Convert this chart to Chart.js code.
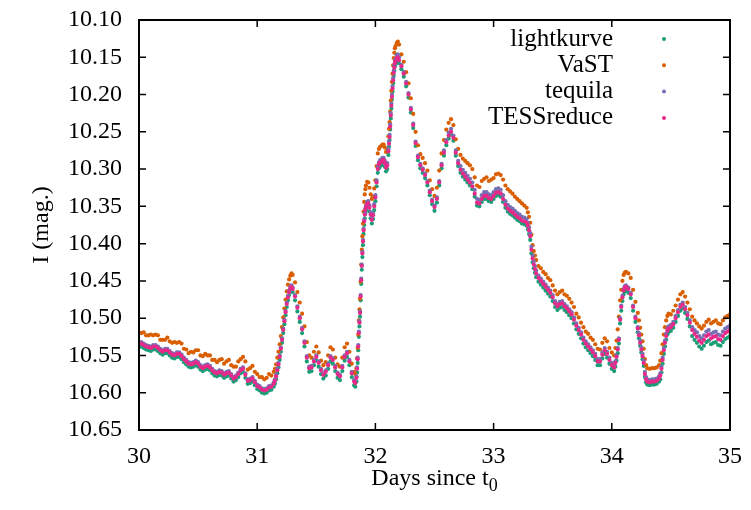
<!DOCTYPE html>
<html>
<head>
<meta charset="utf-8">
<script src="https://cdn.jsdelivr.net/npm/chart.js@4/dist/chart.umd.min.js"></script>
<style>
  html, body { margin: 0; padding: 0; background: #fff; }
  #wrap { width: 751px; height: 510px; }
</style>
</head>
<body>
<div id="wrap"><canvas id="lc"></canvas></div>
<script>
// --- DATA ---
const seriesNames = ['lightkurve', 'VaST', 'tequila', 'TESSreduce'];
const xTickValues = [30, 31, 32, 33, 34, 35];
const yTickValues = [10.10, 10.15, 10.20, 10.25, 10.30, 10.35, 10.40, 10.45, 10.50, 10.55, 10.60, 10.65];

// days since t0 (shared by all four reductions)
const times = [
  30.00,30.02,30.04,30.06,30.08,30.10,30.12,30.14,30.16,30.18,
  30.20,30.22,30.24,30.26,30.28,30.30,30.32,30.34,30.36,30.38,
  30.40,30.42,30.44,30.46,30.48,30.50,30.52,30.54,30.56,30.58,
  30.60,30.62,30.64,30.66,30.68,30.70,30.72,30.74,30.76,30.78,
  30.80,30.82,30.84,30.86,30.88,30.90,30.92,30.94,30.96,30.98,
  31.00,31.02,31.04,31.06,31.08,31.10,31.12,31.14,
  31.15,31.16,31.17,31.18,31.19,31.20,31.21,31.22,31.23,31.24,31.25,31.26,31.27,31.28,31.29,31.30,
  31.32,31.34,31.36,31.38,31.40,31.42,31.44,31.46,31.48,31.50,31.52,31.54,31.56,31.58,31.60,31.62,31.64,31.66,31.68,31.70,31.72,31.74,31.76,31.78,31.80,31.82,
  31.83,31.84,31.845,31.85,31.855,31.86,31.865,31.87,31.875,31.88,31.885,31.89,31.895,31.90,31.905,31.91,31.915,31.92,
  31.93,31.94,31.95,31.96,31.97,31.98,31.99,32.00,32.01,32.02,32.03,32.04,32.05,32.06,32.07,32.08,32.09,32.10,32.11,
  32.115,32.12,32.125,32.13,32.135,32.14,32.145,32.15,32.155,32.16,32.165,32.17,
  32.18,32.19,32.20,
  32.22,32.24,32.26,32.28,32.30,32.32,32.34,32.36,32.38,32.40,
  32.42,32.44,32.46,32.48,32.50,32.52,32.54,32.56,32.58,32.60,
  32.62,32.64,32.66,32.68,32.70,32.72,32.74,32.76,32.78,32.80,
  32.82,32.84,32.86,32.88,32.90,32.92,32.94,32.96,32.98,33.00,
  33.02,33.04,33.06,33.08,33.10,33.12,33.14,33.16,33.18,33.20,
  33.22,33.24,33.26,33.28,
  33.29,33.30,33.31,33.32,33.33,33.34,33.35,33.36,
  33.38,33.40,33.42,33.44,33.46,33.48,33.50,33.52,33.54,33.56,
  33.58,33.60,33.62,33.64,33.66,33.68,33.70,33.72,33.74,33.76,
  33.78,33.80,33.82,33.84,33.86,33.88,33.90,33.92,33.94,33.96,
  33.98,34.00,34.02,
  34.03,34.04,34.05,34.06,34.07,34.08,34.09,34.10,34.11,34.12,
  34.14,34.16,34.18,34.20,34.22,
  34.23,34.24,34.25,34.26,34.27,34.28,34.29,34.30,
  34.32,34.34,34.36,34.38,34.40,
  34.41,34.42,34.43,34.44,34.45,34.46,34.47,34.48,
  34.50,34.52,34.54,34.56,34.58,34.60,34.62,34.64,34.66,34.68,
  34.70,34.72,34.74,34.76,34.78,34.80,34.82,34.84,34.86,34.88,
  34.90,34.92,34.94,34.96,34.98,35.00
];

// I magnitudes, lightkurve
const lightkurve = [
  10.539,10.538,10.540,10.542,10.543,10.544,10.542,10.542,10.544,10.547,
  10.549,10.547,10.547,10.550,10.553,10.554,10.552,10.552,10.555,10.559,
  10.562,10.565,10.566,10.565,10.563,10.565,10.569,10.571,10.569,10.568,
  10.570,10.574,10.577,10.578,10.576,10.577,10.580,10.578,10.577,10.581,
  10.585,10.583,10.579,10.574,10.572,10.580,10.588,10.587,10.585,10.590,
  10.595,10.597,10.600,10.601,10.600,10.597,10.596,10.592,
  10.588,10.582,10.574,10.566,10.556,10.545,10.533,10.520,10.508,10.496,10.485,10.476,10.469,10.464,10.462,10.465,
  10.476,10.491,10.505,10.520,10.538,10.558,10.572,10.571,10.563,10.557,10.565,10.575,10.581,10.577,10.568,10.558,10.561,10.571,10.580,10.583,10.571,10.557,10.552,10.563,10.579,10.590,
  10.592,10.585,10.573,10.560,10.543,10.525,10.511,10.498,10.476,10.454,10.435,10.418,10.402,10.387,10.375,10.366,10.360,10.356,
  10.352,10.351,10.357,10.366,10.373,10.367,10.355,10.343,10.323,10.305,10.299,10.296,10.295,10.293,10.293,10.297,10.303,10.300,10.281,
  10.270,10.261,10.247,10.232,10.219,10.207,10.196,10.185,10.175,10.168,10.162,10.159,
  10.155,10.154,10.158,
  10.166,10.176,10.189,10.204,10.224,10.245,10.269,10.288,10.299,10.305,
  10.312,10.322,10.335,10.347,10.356,10.345,10.322,10.299,10.282,10.268,
  10.259,10.254,10.262,10.282,10.296,10.305,10.310,10.314,10.318,10.322,
  10.327,10.337,10.349,10.350,10.344,10.340,10.340,10.343,10.344,10.340,
  10.336,10.335,10.337,10.344,10.352,10.357,10.360,10.362,10.365,10.368,
  10.370,10.373,10.374,10.376,
  10.381,10.387,10.395,10.413,10.425,10.433,10.439,10.445,
  10.451,10.455,10.459,10.463,10.467,10.471,10.477,10.485,10.489,10.486,
  10.485,10.489,10.492,10.496,10.500,10.507,10.515,10.521,10.527,10.534,
  10.539,10.543,10.547,10.551,10.556,10.563,10.563,10.554,10.548,10.553,
  10.561,10.568,10.571,
  10.565,10.557,10.547,10.534,10.507,10.490,10.477,10.468,10.464,10.463,
  10.466,10.473,10.490,10.505,10.519,
  10.527,10.537,10.546,10.555,10.564,10.579,10.586,10.589,
  10.590,10.589,10.589,10.588,10.585,
  10.582,10.573,10.561,10.548,10.538,10.529,10.522,10.519,
  10.517,10.513,10.505,10.497,10.490,10.487,10.493,10.501,10.511,10.524,
  10.529,10.533,10.538,10.541,10.537,10.532,10.530,10.535,10.533,10.532,
  10.536,10.537,10.532,10.528,10.526,10.524
];

// I magnitudes, VaST
const vast = [
  10.519,10.520,10.519,10.523,10.523,10.522,10.523,10.522,10.523,10.529,
  10.529,10.529,10.526,10.531,10.533,10.532,10.533,10.532,10.534,10.541,
  10.542,10.547,10.545,10.546,10.543,10.543,10.550,10.551,10.548,10.550,
  10.550,10.556,10.556,10.559,10.556,10.555,10.561,10.558,10.556,10.563,
  10.565,10.565,10.558,10.555,10.552,10.558,10.569,10.567,10.564,10.572,
  10.575,10.579,10.579,10.582,10.580,10.575,10.577,10.572,
  10.568,10.562,10.553,10.545,10.535,10.524,10.512,10.499,10.487,10.475,10.464,10.455,10.448,10.443,10.440,10.442,
  10.452,10.465,10.479,10.494,10.511,10.532,10.550,10.553,10.545,10.538,10.546,10.557,10.563,10.559,10.550,10.539,10.542,10.553,10.562,10.565,10.553,10.539,10.534,10.545,10.561,10.572,
  10.575,10.567,10.554,10.540,10.522,10.503,10.488,10.474,10.451,10.428,10.408,10.390,10.373,10.357,10.344,10.334,10.327,10.322,
  10.317,10.318,10.325,10.334,10.340,10.337,10.326,10.315,10.296,10.279,10.273,10.270,10.269,10.267,10.267,10.271,10.277,10.274,10.256,
  10.246,10.237,10.223,10.208,10.195,10.183,10.172,10.161,10.151,10.144,10.138,10.135,
  10.131,10.129,10.133,
  10.146,10.156,10.170,10.185,10.205,10.226,10.250,10.268,10.280,10.285,
  10.292,10.302,10.315,10.327,10.336,10.325,10.302,10.279,10.261,10.247,
  10.238,10.233,10.241,10.260,10.273,10.281,10.286,10.289,10.292,10.295,
  10.300,10.311,10.322,10.324,10.316,10.313,10.311,10.316,10.314,10.312,
  10.307,10.306,10.308,10.314,10.322,10.327,10.330,10.333,10.337,10.340,
  10.343,10.346,10.349,10.352,
  10.358,10.364,10.372,10.388,10.402,10.410,10.416,10.422,
  10.430,10.433,10.438,10.441,10.446,10.449,10.456,10.463,10.468,10.465,
  10.463,10.468,10.470,10.474,10.479,10.485,10.494,10.499,10.506,10.512,
  10.518,10.521,10.526,10.529,10.535,10.541,10.542,10.533,10.527,10.531,
  10.540,10.546,10.550,
  10.540,10.530,10.515,10.498,10.476,10.462,10.450,10.442,10.439,10.438,
  10.440,10.446,10.462,10.478,10.493,
  10.503,10.513,10.522,10.531,10.541,10.555,10.563,10.567,
  10.568,10.567,10.567,10.566,10.563,
  10.557,10.547,10.535,10.522,10.512,10.503,10.497,10.494,
  10.495,10.490,10.483,10.475,10.468,10.465,10.471,10.479,10.488,10.498,
  10.503,10.507,10.511,10.514,10.510,10.505,10.502,10.507,10.505,10.503,
  10.507,10.508,10.503,10.499,10.497,10.495
];

// I magnitudes, tequila
const tequila = [
  10.533,10.532,10.534,10.536,10.537,10.538,10.536,10.536,10.538,10.541,
  10.543,10.541,10.541,10.544,10.547,10.548,10.546,10.546,10.549,10.553,
  10.556,10.559,10.560,10.559,10.557,10.559,10.563,10.565,10.563,10.562,
  10.564,10.568,10.571,10.572,10.570,10.571,10.574,10.572,10.571,10.575,
  10.579,10.577,10.573,10.568,10.566,10.574,10.582,10.581,10.579,10.584,
  10.589,10.591,10.594,10.595,10.594,10.591,10.590,10.586,
  10.582,10.576,10.568,10.560,10.550,10.539,10.527,10.514,10.502,10.490,10.479,10.470,10.463,10.458,10.456,10.459,
  10.469,10.484,10.498,10.513,10.531,10.551,10.565,10.564,10.556,10.550,10.558,10.568,10.574,10.570,10.561,10.551,10.554,10.564,10.573,10.576,10.564,10.550,10.545,10.556,10.572,10.583,
  10.585,10.578,10.566,10.553,10.536,10.518,10.504,10.491,10.469,10.447,10.428,10.411,10.395,10.380,10.368,10.359,10.353,10.349,
  10.344,10.343,10.349,10.358,10.365,10.359,10.347,10.335,10.315,10.297,10.291,10.288,10.287,10.285,10.285,10.289,10.295,10.292,10.273,
  10.263,10.254,10.240,10.225,10.212,10.200,10.189,10.178,10.168,10.161,10.155,10.152,
  10.147,10.146,10.150,
  10.160,10.170,10.183,10.198,10.218,10.239,10.263,10.282,10.293,10.299,
  10.306,10.316,10.329,10.341,10.349,10.338,10.316,10.293,10.275,10.261,
  10.251,10.246,10.255,10.275,10.289,10.296,10.301,10.305,10.309,10.313,
  10.318,10.328,10.340,10.341,10.335,10.331,10.331,10.334,10.335,10.331,
  10.327,10.326,10.328,10.335,10.343,10.348,10.351,10.353,10.356,10.359,
  10.361,10.364,10.365,10.367,
  10.372,10.378,10.386,10.404,10.416,10.424,10.430,10.436,
  10.443,10.447,10.451,10.455,10.459,10.463,10.469,10.477,10.481,10.478,
  10.477,10.481,10.484,10.488,10.492,10.499,10.507,10.513,10.519,10.526,
  10.531,10.535,10.539,10.543,10.548,10.555,10.555,10.546,10.540,10.545,
  10.553,10.560,10.563,
  10.558,10.550,10.540,10.527,10.500,10.483,10.470,10.461,10.457,10.456,
  10.459,10.466,10.483,10.498,10.512,
  10.520,10.530,10.539,10.548,10.557,10.572,10.579,10.582,
  10.583,10.582,10.582,10.581,10.578,
  10.574,10.565,10.553,10.540,10.530,10.521,10.514,10.511,
  10.509,10.505,10.497,10.489,10.482,10.479,10.485,10.493,10.503,10.512,
  10.516,10.519,10.524,10.527,10.523,10.518,10.516,10.521,10.519,10.518,
  10.522,10.523,10.518,10.514,10.512,10.510
];

// I magnitudes, TESSreduce
const tessreduce = [
  10.535,10.534,10.536,10.538,10.539,10.540,10.538,10.538,10.540,10.543,
  10.545,10.543,10.543,10.546,10.549,10.550,10.548,10.548,10.551,10.555,
  10.558,10.561,10.562,10.561,10.559,10.561,10.565,10.567,10.565,10.564,
  10.566,10.570,10.573,10.574,10.572,10.573,10.576,10.574,10.573,10.577,
  10.581,10.579,10.575,10.570,10.568,10.576,10.584,10.583,10.581,10.586,
  10.591,10.593,10.596,10.597,10.596,10.593,10.592,10.588,
  10.584,10.578,10.570,10.562,10.552,10.541,10.529,10.516,10.504,10.492,10.481,10.472,10.465,10.460,10.458,10.461,
  10.471,10.486,10.500,10.515,10.533,10.553,10.567,10.566,10.558,10.552,10.560,10.570,10.576,10.572,10.563,10.553,10.556,10.566,10.575,10.578,10.566,10.552,10.547,10.558,10.574,10.585,
  10.587,10.580,10.568,10.555,10.538,10.520,10.506,10.493,10.471,10.449,10.430,10.413,10.397,10.382,10.370,10.361,10.355,10.351,
  10.347,10.346,10.352,10.361,10.368,10.362,10.350,10.338,10.318,10.300,10.294,10.291,10.290,10.288,10.288,10.292,10.298,10.295,10.276,
  10.266,10.257,10.243,10.228,10.215,10.203,10.192,10.181,10.171,10.164,10.158,10.155,
  10.151,10.150,10.154,
  10.162,10.172,10.185,10.200,10.220,10.241,10.265,10.284,10.295,10.301,
  10.308,10.318,10.331,10.343,10.351,10.340,10.318,10.295,10.278,10.264,
  10.255,10.250,10.258,10.278,10.292,10.301,10.306,10.310,10.314,10.318,
  10.323,10.333,10.345,10.346,10.340,10.336,10.336,10.339,10.340,10.336,
  10.332,10.331,10.333,10.340,10.348,10.353,10.356,10.358,10.361,10.364,
  10.366,10.369,10.370,10.372,
  10.376,10.382,10.390,10.408,10.420,10.428,10.434,10.440,
  10.446,10.450,10.454,10.458,10.462,10.466,10.472,10.480,10.484,10.481,
  10.480,10.484,10.487,10.491,10.495,10.502,10.510,10.516,10.522,10.529,
  10.534,10.538,10.542,10.546,10.551,10.558,10.558,10.549,10.543,10.548,
  10.556,10.563,10.566,
  10.560,10.552,10.542,10.529,10.502,10.485,10.472,10.463,10.459,10.458,
  10.461,10.468,10.485,10.500,10.514,
  10.523,10.533,10.542,10.551,10.560,10.575,10.582,10.585,
  10.586,10.585,10.585,10.584,10.581,
  10.577,10.568,10.556,10.543,10.533,10.524,10.517,10.514,
  10.512,10.508,10.500,10.492,10.485,10.482,10.488,10.496,10.506,10.516,
  10.521,10.525,10.530,10.533,10.529,10.524,10.522,10.527,10.525,10.524,
  10.528,10.529,10.524,10.520,10.518,10.516
];

const seriesValues = [lightkurve, vast, tequila, tessreduce];
const seriesColors = ['#1b9e77', '#d95f02', '#7570b3', '#e7298a'];

seriesValues.forEach((s, i) => {
    if (s.length !== times.length) {
        throw new Error(seriesNames[i] + ' has ' + s.length + ' values, times has ' + times.length);
    }
});

// --- CHART ---
const FONT = '"Liberation Serif", "Times New Roman", serif';
Chart.defaults.font.family = FONT;
Chart.defaults.font.size = 24;
Chart.defaults.color = '#000';

// drop the extra room chart.js keeps for the end tick labels
function noScalePadding(s) {
    s.paddingTop = 0; s.paddingBottom = 0; s.paddingLeft = 0; s.paddingRight = 0;
}

// gnuplot-like frame: box, inward ticks on all four sides, key, x label with subscript
const framePlugin = {
    id: 'frame',
    afterDatasetsDraw(chart) {
        const { ctx, chartArea: a, scales: { x, y } } = chart;
        ctx.save();
        ctx.strokeStyle = '#000';
        ctx.lineWidth = 1.5;
        ctx.beginPath();
        xTickValues.forEach(v => {
            const px = x.getPixelForValue(v);
            ctx.moveTo(px, a.bottom); ctx.lineTo(px, a.bottom - 7);
            ctx.moveTo(px, a.top); ctx.lineTo(px, a.top + 7);
        });
        yTickValues.forEach(v => {
            const py = y.getPixelForValue(v);
            ctx.moveTo(a.left, py); ctx.lineTo(a.left + 7, py);
            ctx.moveTo(a.right, py); ctx.lineTo(a.right - 7, py);
        });
        ctx.stroke();
        ctx.lineWidth = 2;
        ctx.strokeRect(a.left, a.top, a.right - a.left, a.bottom - a.top);

        // key (top right, text right-aligned, sample point to the right)
        ctx.font = '25px ' + FONT;
        ctx.textAlign = 'right';
        ctx.textBaseline = 'middle';
        seriesNames.forEach((name, i) => {
            const cy = a.top + 19 + i * 26.3;
            ctx.fillStyle = '#000';
            ctx.fillText(name, a.right - 117, cy);
            ctx.fillStyle = seriesColors[i];
            ctx.beginPath();
            ctx.arc(a.right - 66, cy, 2, 0, Math.PI * 2);
            ctx.fill();
        });

        // x axis title: "Days since t" with subscript 0
        const main = 'Days since t', sub = '0';
        ctx.fillStyle = '#000';
        ctx.textAlign = 'left';
        ctx.textBaseline = 'alphabetic';
        ctx.font = '24px ' + FONT;
        const w1 = ctx.measureText(main).width;
        ctx.font = '18px ' + FONT;
        const w2 = ctx.measureText(sub).width;
        const x0 = (a.left + a.right) / 2 - (w1 + w2) / 2;
        ctx.font = '24px ' + FONT;
        ctx.fillText(main, x0, 485);
        ctx.font = '18px ' + FONT;
        ctx.fillText(sub, x0 + w1, 491);
        ctx.restore();
    }
};

new Chart(document.getElementById('lc'), {
    type: 'scatter',
    data: {
        datasets: seriesNames.map((name, i) => ({
            label: name,
            data: times.map((t, k) => ({ x: t, y: seriesValues[i][k] })),
            backgroundColor: seriesColors[i],
            borderWidth: 0,
            pointRadius: 2.1,
            order: seriesNames.length - 1 - i // later series drawn on top
        }))
    },
    options: {
        responsive: true,
        maintainAspectRatio: false,
        animation: false,
        events: [],
        layout: { padding: { top: 20, right: 21, bottom: 0, left: 0 } },
        plugins: { legend: { display: false }, tooltip: { enabled: false } },
        scales: {
            x: {
                type: 'linear',
                min: 30,
                max: 35,
                afterBuildTicks: s => { s.ticks = xTickValues.map(v => ({ value: v })); },
                afterFit: s => { s.height = 80; noScalePadding(s); },
                grid: { display: false, drawTicks: false },
                border: { display: false },
                ticks: { padding: 12, callback: v => String(v) }
            },
            y: {
                type: 'linear',
                reverse: true,
                min: 10.10,
                max: 10.65,
                afterBuildTicks: s => { s.ticks = yTickValues.map(v => ({ value: v })); },
                afterFit: s => { s.width = 139; noScalePadding(s); },
                grid: { display: false, drawTicks: false },
                border: { display: false },
                ticks: { padding: 17, callback: v => Number(v).toFixed(2) },
                title: { display: true, text: 'I (mag.)', padding: { top: 27 } }
            }
        }
    },
    plugins: [framePlugin]
});
</script>
</body>
</html>
